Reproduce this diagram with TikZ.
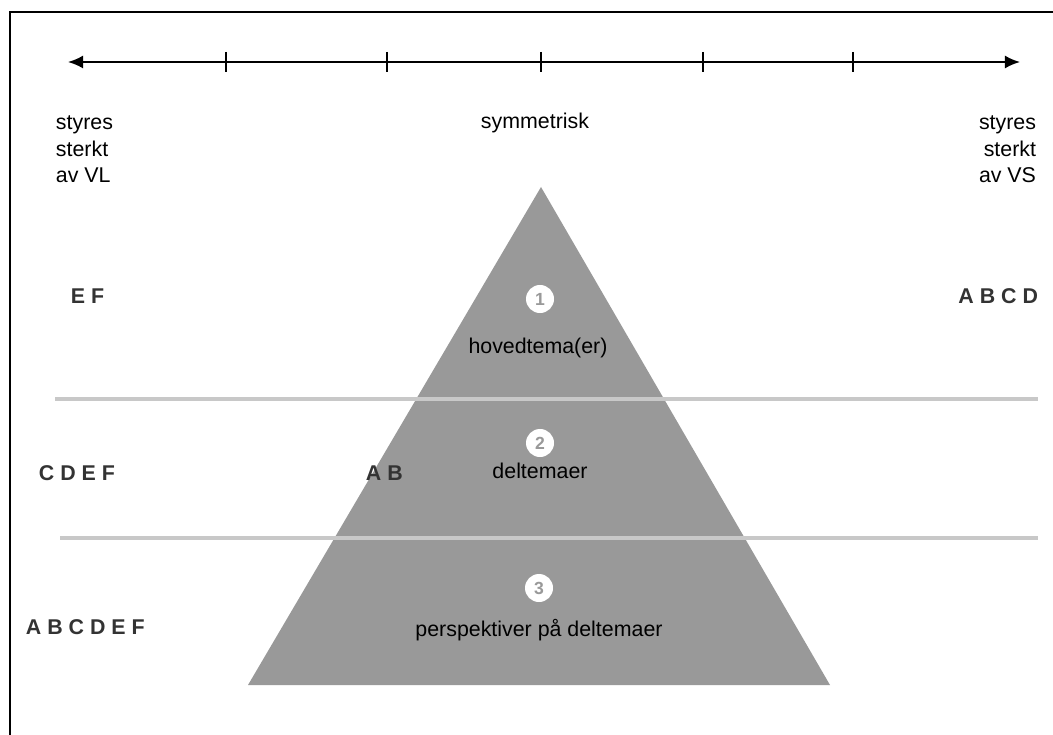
\documentclass[tikz,border=0pt]{standalone}
\usepackage{fontspec}
\setmainfont{Liberation Sans}
\usetikzlibrary{positioning}
\usetikzlibrary{arrows.meta}
\definecolor{pyramid}{HTML}{999999}
\definecolor{divider}{HTML}{C8C8C8}
\definecolor{letters}{HTML}{333333}
\tikzset{every picture/.style={line width=1.4pt}}

\begin{document}
\begin{tikzpicture}[x=0.025cm,y=-0.025cm,
  txt/.style={inner sep=0pt,font=\fontsize{15.2}{19.1}\selectfont},
  grp/.style={inner sep=0pt,text=letters,font=\fontsize{15.2}{18}\selectfont\bfseries},
  num/.style={circle,fill=white,inner sep=0pt,minimum size=0.7cm,text=pyramid,font=\fontsize{12.5}{12.5}\selectfont\bfseries},
  tip/.style={{Latex[length=0.38cm,width=0.33cm]}-{Latex[length=0.38cm,width=0.33cm]}}]
\useasboundingbox (0,0) rectangle (1053,735);
% frame
\draw[line width=2pt] (10,735) -- (10,12) -- (1053,12);
% scale with ticks
\coordinate (sl) at (68,62);
\coordinate (sr) at (1020,62);
\draw[tip] (sl) -- (sr);
\foreach \x in {226,387,541,703,853}
  \draw (\x,52) -- (\x,72);
% pyramid and levels
\fill[pyramid] (541,187) -- (830,685) -- (248,685) -- cycle;
\draw[divider,line width=2.8pt] (55,399) -- (1038,399);
\draw[divider,line width=2.8pt] (60,538) -- (1038,538);
% scale labels (base = last line)
\node (vl) [txt,align=left,anchor=base west] at (55,183) {styres\\sterkt\\av VL};
\node (sym) [txt,anchor=base] at (535,129) {symmetrisk};
\node (vs) [txt,align=right,anchor=base east] at (1037,183) {styres\\sterkt\\av VS};
% levels
\node (n1) [num] at (540,299) {1};
\node (t1) [txt,anchor=base] at (538,353) {hovedtema(er)};
\node (n2) [num] at (540,443) {2};
\node (t2) [txt,anchor=base] at (540,478) {deltemaer};
\node (n3) [num] at (539,588) {3};
\node (t3) [txt,anchor=base] at (539,636) {perspektiver på deltemaer};
% letter groups
\node (ef) [grp,anchor=base west] at (70,303) {E F};
\node (abcd) [grp,anchor=base east] at (1039,303) {A B C D};
\node (cdef) [grp,anchor=base west] at (38,480) {C D E F};
\node (ab) [grp,anchor=base west] at (365,480) {A B};
\node (abcdef) [grp,anchor=base west] at (25,634) {A B C D E F};
\end{tikzpicture}
\end{document}
